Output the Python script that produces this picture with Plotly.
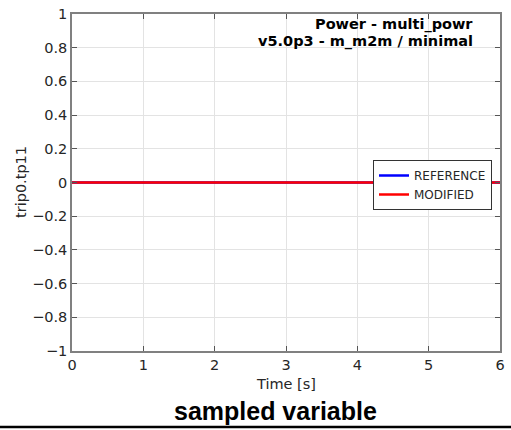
import plotly.graph_objects as go

time_s = [0, 1, 2, 3, 4, 5, 6]
reference_vals = [0, 0, 0, 0, 0, 0, 0]
modified_vals = [0, 0, 0, 0, 0, 0, 0]
x_ticks = [0, 1, 2, 3, 4, 5, 6]
y_ticks = [-1, -0.8, -0.6, -0.4, -0.2, 0, 0.2, 0.4, 0.6, 0.8, 1]
y_ticktext = ["\u22121", "\u22120.8", "\u22120.6", "\u22120.4", "\u22120.2", "0", "0.2", "0.4", "0.6", "0.8", "1"]

L, R, T, B = 72, 11, 14, 79
W, H = 511, 430
PW, PH = W - L - R, H - T - B


def px(x):
    return (x - L) / PW


def py(y):
    return (H - B - y) / PH


fig = go.Figure()
fig.add_trace(go.Scatter(x=time_s, y=reference_vals, mode="lines", name="REFERENCE",
                         line=dict(color="#0000ff", width=2.5)))
fig.add_trace(go.Scatter(x=time_s, y=modified_vals, mode="lines", name="MODIFIED",
                         line=dict(color="#ff0000", width=2.5)))

axis_common = dict(
    showline=True, linecolor="#808080", linewidth=1.5, mirror="ticks",
    ticks="inside", ticklen=5, tickcolor="#555555",
    showgrid=True, gridcolor="#e3e3e3", gridwidth=1, zeroline=False,
    tickfont=dict(family="DejaVu Sans", size=14.5, color="#262626"),
    automargin=False,
)

fig.update_layout(
    width=W, height=H,
    margin=dict(l=L, r=R, t=T, b=B, autoexpand=False),
    paper_bgcolor="white", plot_bgcolor="white",
    xaxis=dict(range=[0, 6], tickvals=x_ticks, ticktext=[str(v) for v in x_ticks], **axis_common),
    yaxis=dict(range=[-1, 1], tickvals=y_ticks, ticktext=y_ticktext, **axis_common),
    legend=dict(x=px(492), y=py(160), xanchor="right", yanchor="top",
                bgcolor="white", bordercolor="#333333", borderwidth=1,
                font=dict(family="DejaVu Sans", size=12, color="#262626"),
                tracegroupgap=0, itemwidth=30),
    showlegend=True,
)

fig.add_annotation(text="Time [s]", xref="paper", yref="paper",
                   x=px(286), y=py(384), xanchor="center", yanchor="middle",
                   showarrow=False, font=dict(family="DejaVu Sans", size=14.5, color="#262626"))
fig.add_annotation(text="trip0.tp11", xref="paper", yref="paper", textangle=-90,
                   x=px(21), y=py(182), xanchor="center", yanchor="middle",
                   showarrow=False, font=dict(family="DejaVu Sans", size=14.5, color="#262626"))
fig.add_annotation(text="<b>Power - multi_powr</b>", xref="paper", yref="paper",
                   x=px(475), y=py(24), xanchor="right", yanchor="middle",
                   showarrow=False, font=dict(family="DejaVu Sans", size=14.5, color="black"))
fig.add_annotation(text="<b>v5.0p3 - m_m2m / minimal</b>", xref="paper", yref="paper",
                   x=px(475), y=py(42), xanchor="right", yanchor="middle",
                   showarrow=False, font=dict(family="DejaVu Sans", size=14.5, color="black"))
fig.add_annotation(text="<b>sampled variable</b>", xref="paper", yref="paper",
                   x=px(275), y=py(411), xanchor="center", yanchor="middle",
                   showarrow=False, font=dict(family="Liberation Sans", size=25, color="black"))
fig.add_shape(type="line", xref="paper", yref="paper",
              x0=px(0), x1=px(W), y0=py(427), y1=py(427),
              line=dict(color="black", width=2.5))

fig.write_html("out.html",
               config={"displayModeBar": False},
               post_script="document.body.style.margin='0';document.body.style.overflow='hidden';")
